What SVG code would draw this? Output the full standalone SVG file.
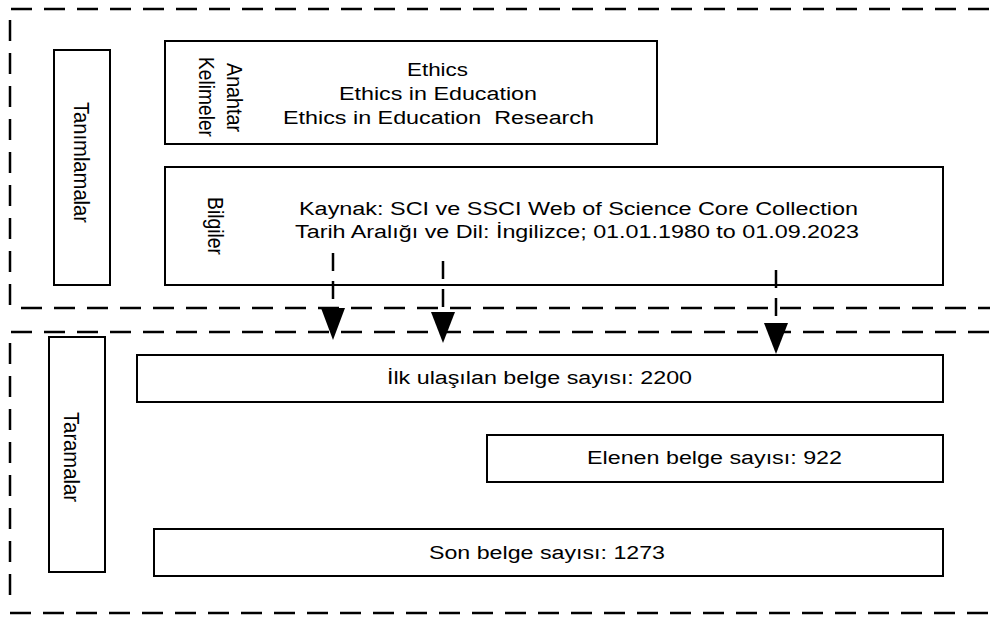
<svg xmlns="http://www.w3.org/2000/svg" width="990" height="617" viewBox="0 0 990 617">
<style>
  .frame { fill: none; stroke: #000; stroke-width: 2.5; stroke-dasharray: 21 12; }
  .box { fill: #fff; stroke: #000; stroke-width: 2; }
  .t { font-family: "Liberation Sans", Arial, sans-serif; font-size: 18px; fill: #000; }
  .conn { fill: none; stroke: #000; stroke-width: 2.5; stroke-dasharray: 18 10; }
  .head { fill: #000; stroke: none; }
</style>
<rect width="990" height="617" fill="#fff"/>
<g id="frames">
  <path class="frame" d="M10,305 V9 H990"/>
  <path class="frame" d="M21,308 H990"/>
  <path class="frame" d="M10,595 V332 H990"/>
  <path class="frame" d="M10,613 H990"/>
</g>
<g id="node-tanimlamalar">
  <rect class="box" x="54" y="50" width="56" height="235"/>
  <text class="t" transform="translate(74,102) scale(1.2,1) rotate(90)" textLength="121" lengthAdjust="spacingAndGlyphs">Tanımlamalar</text>
</g>
<g id="node-anahtar">
  <rect class="box" x="165" y="41" width="492" height="103"/>
  <text class="t" transform="translate(227,63) scale(1.2,1) rotate(90)" textLength="69" lengthAdjust="spacingAndGlyphs">Anahtar</text>
  <text class="t" transform="translate(199,57) scale(1.2,1) rotate(90)" textLength="80" lengthAdjust="spacingAndGlyphs">Kelimeler</text>
  <text class="t" x="407" y="76" textLength="61" lengthAdjust="spacingAndGlyphs">Ethics</text>
  <text class="t" x="339" y="100" textLength="198" lengthAdjust="spacingAndGlyphs">Ethics in Education</text>
  <text class="t" x="283" y="124" textLength="311" lengthAdjust="spacingAndGlyphs" style="white-space:pre">Ethics in Education  Research</text>
</g>
<g id="node-bilgiler">
  <rect class="box" x="165" y="167" width="778" height="118"/>
  <text class="t" transform="translate(208,197) scale(1.2,1) rotate(90)" textLength="58" lengthAdjust="spacingAndGlyphs">Bilgiler</text>
  <text class="t" x="299" y="215" textLength="559" lengthAdjust="spacingAndGlyphs">Kaynak: SCI ve SSCI Web of Science Core Collection</text>
  <text class="t" x="295" y="238" textLength="564" lengthAdjust="spacingAndGlyphs">Tarih Aralığı ve Dil: İngilizce; 01.01.1980 to 01.09.2023</text>
</g>
<g id="node-taramalar">
  <rect class="box" x="49" y="337" width="56" height="235"/>
  <text class="t" transform="translate(64,412) scale(1.2,1) rotate(90)" textLength="90" lengthAdjust="spacingAndGlyphs">Taramalar</text>
</g>
<g id="node-ilk">
  <rect class="box" x="137" y="355" width="806" height="47"/>
  <text class="t" x="387" y="384" textLength="305" lengthAdjust="spacingAndGlyphs">İlk ulaşılan belge sayısı: 2200</text>
</g>
<g id="node-elenen">
  <rect class="box" x="487" y="435" width="456" height="47"/>
  <text class="t" x="587" y="464" textLength="255" lengthAdjust="spacingAndGlyphs">Elenen belge sayısı: 922</text>
</g>
<g id="node-son">
  <rect class="box" x="154" y="529" width="789" height="47"/>
  <text class="t" x="429" y="559" textLength="236" lengthAdjust="spacingAndGlyphs">Son belge sayısı: 1273</text>
</g>
<g id="connectors">
  <path class="conn" d="M333,253 V308"/>
  <polygon class="head" points="321,308 345,308 333,340"/>
  <path class="conn" d="M443,261 V312"/>
  <polygon class="head" points="431,312 455,312 443,343"/>
  <path class="conn" d="M776,270 V323"/>
  <polygon class="head" points="764,323 788,323 776,354"/>
</g>
</svg>
